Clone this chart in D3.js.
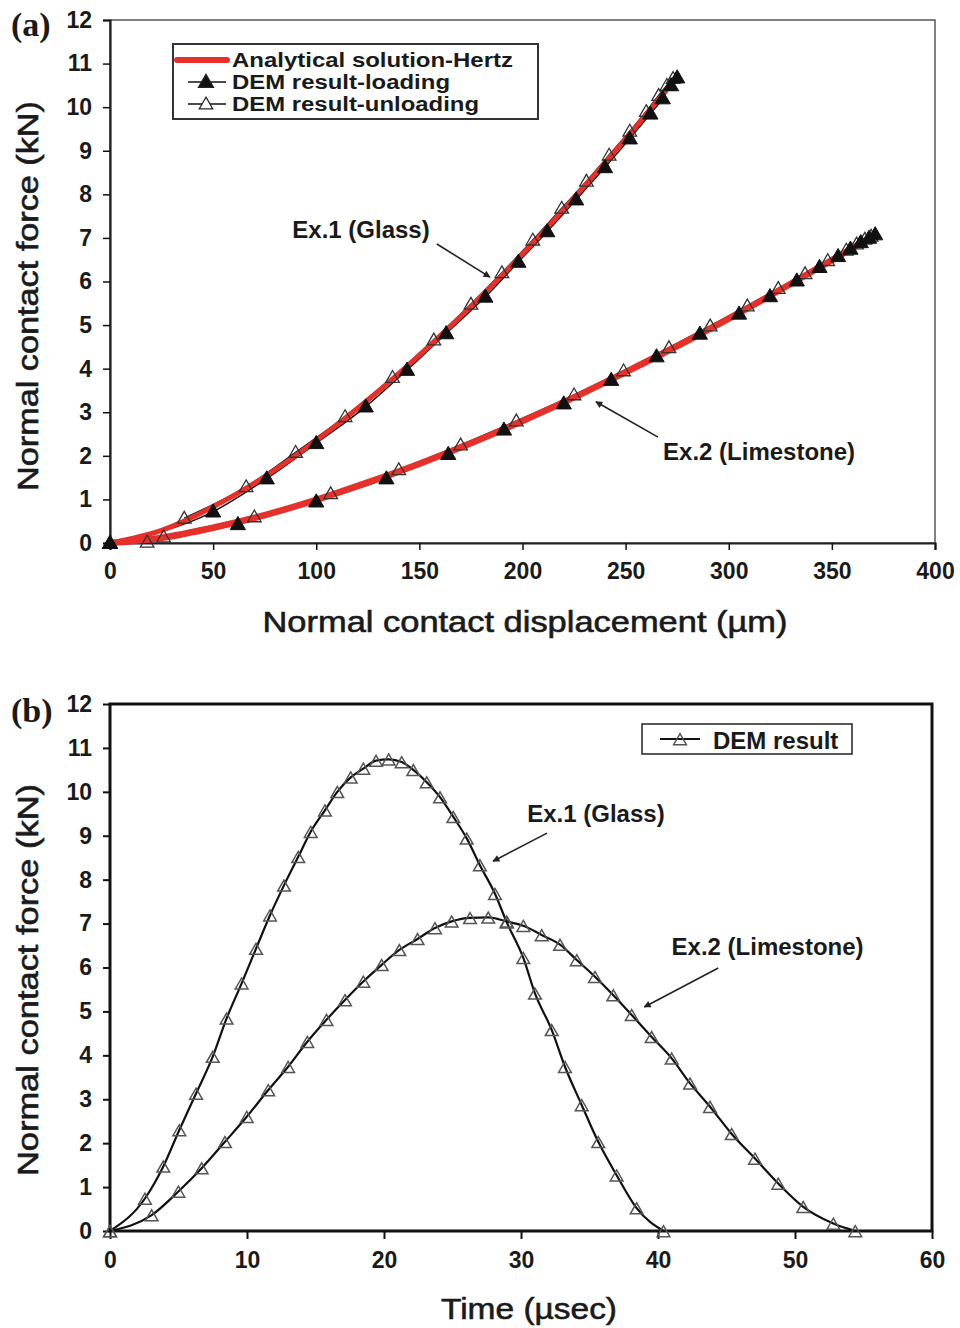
<!DOCTYPE html>
<html lang="en">
<head>
<meta charset="UTF-8">
<title>Normal contact force</title>
<script src="https://d3js.org/d3.v7.min.js"></script>
<style>
  body { margin: 0; background: #fff; }
  text { font-family: "Liberation Sans", Arial, sans-serif; fill: #1a1a1a; }
</style>
</head>
<body>
<script>
// ---- data ----
var dispTicks = [0, 50, 100, 150, 200, 250, 300, 350, 400];
var timeTicks = [0, 10, 20, 30, 40, 50, 60];
var forceTicks = [0, 1, 2, 3, 4, 5, 6, 7, 8, 9, 10, 11, 12];

// (a) analytical Hertz curves
var hertzGlassD = [0, 25, 50, 75, 100, 125, 150, 175, 200, 225, 250, 275];
var hertzGlassF = [0, 0.29, 0.83, 1.52, 2.35, 3.28, 4.31, 5.43, 6.63, 7.92, 9.27, 10.70];
var hertzLimeD = [0, 25, 50, 75, 100, 125, 150, 175, 200, 225, 250, 275, 300, 325, 350, 370];
var hertzLimeF = [0, 0.12, 0.35, 0.64, 0.99, 1.39, 1.82, 2.29, 2.80, 3.34, 3.92, 4.52, 5.15, 5.81, 6.49, 7.05];

// (a) DEM loading / unloading
var glassLoadD = [0, 50, 76, 100, 124, 144, 163, 182, 198, 212, 226, 240, 252, 262, 268, 272, 275];
var glassLoadF = [0, 0.72, 1.48, 2.29, 3.13, 3.97, 4.81, 5.65, 6.45, 7.15, 7.88, 8.62, 9.28, 9.85, 10.2, 10.5, 10.68];
var glassUnloadD = [36, 66, 90, 114, 137, 157, 175, 190, 205, 219, 231, 242, 252, 260, 266, 270, 273];
var glassUnloadF = [0.57, 1.29, 2.08, 2.9, 3.8, 4.66, 5.48, 6.2, 6.95, 7.68, 8.3, 8.9, 9.45, 9.9, 10.27, 10.5, 10.66];
var limeLoadD = [0, 62, 100, 134, 164, 191, 220, 243, 265, 286, 305, 320, 333, 344, 353, 359, 364, 368, 371];
var limeLoadF = [0, 0.43, 0.95, 1.48, 2.04, 2.6, 3.2, 3.74, 4.28, 4.8, 5.26, 5.66, 6.02, 6.33, 6.58, 6.75, 6.9, 7.0, 7.08];
var limeUnloadD = [18, 26, 70, 107, 140, 170, 197, 225, 249, 271, 291, 309, 324, 337, 348, 357, 362, 366, 369];
var limeUnloadF = [0.02, 0.14, 0.6, 1.13, 1.68, 2.25, 2.8, 3.4, 3.95, 4.48, 4.98, 5.44, 5.84, 6.18, 6.48, 6.72, 6.86, 6.97, 7.04];

// (b) DEM force history
var glassT = [0, 2.55, 3.89, 5.06, 6.28, 7.5, 8.51, 9.61, 10.66, 11.68, 12.7, 13.74, 14.65, 15.69, 16.59, 17.57, 18.49, 19.42, 20.34, 21.29,
  22.14, 23.12, 24.09, 25.06, 26.04, 27.0, 28.1, 28.96, 30.17, 31.02, 32.24, 33.21, 34.43, 35.64, 36.98, 38.44, 40.4];
var glassF = [0, 0.74, 1.47, 2.3, 3.13, 3.97, 4.84, 5.64, 6.43, 7.19, 7.87, 8.52, 9.09, 9.58, 10.0, 10.33, 10.53, 10.71, 10.74, 10.68,
  10.5, 10.22, 9.88, 9.43, 8.94, 8.33, 7.68, 7.03, 6.22, 5.41, 4.58, 3.74, 2.87, 2.03, 1.27, 0.52, 0];
var limeT = [0, 3.04, 4.99, 6.69, 8.39, 9.98, 11.55, 13.0, 14.4, 15.8, 17.15, 18.49, 19.83, 21.12, 22.45, 23.72, 24.94, 26.28, 27.61, 28.96,
  30.17, 31.51, 32.85, 34.07, 35.4, 36.74, 38.08, 39.54, 41.0, 42.34, 43.8, 45.38, 47.08, 48.78, 50.6, 52.8, 54.4];
var limeF = [0, 0.36, 0.9, 1.43, 2.03, 2.6, 3.21, 3.74, 4.31, 4.81, 5.26, 5.68, 6.06, 6.4, 6.65, 6.9, 7.05, 7.13, 7.14, 7.05,
  6.95, 6.74, 6.52, 6.17, 5.79, 5.37, 4.92, 4.42, 3.93, 3.36, 2.83, 2.21, 1.65, 1.08, 0.55, 0.17, 0];

function zip(xs, ys) {
  return xs.map(function (x, i) { return [x, ys[i]]; });
}

var svg = d3.select('body').append('svg')
  .attr('width', 960)
  .attr('height', 1328);

svg.append('rect').attr('width', 960).attr('height', 1328).attr('fill', '#fff');

var defs = svg.append('defs');
defs.append('marker')
  .attr('id', 'arrow')
  .attr('viewBox', '0 0 10 10')
  .attr('refX', 9).attr('refY', 5)
  .attr('markerWidth', 10).attr('markerHeight', 7)
  .attr('markerUnits', 'userSpaceOnUse')
  .attr('orient', 'auto')
  .append('path').attr('d', 'M0,0 L10,5 L0,10 z').attr('fill', '#222');

var tri = d3.symbol().type(d3.symbolTriangle);

function styleTicks(a, w) {
  a.selectAll('.tick line').attr('stroke', '#111').attr('stroke-width', w);
  a.selectAll('.tick text').attr('font-size', 23).attr('font-weight', 'bold')
    .attr('font-family', '"Liberation Sans", Arial, sans-serif').attr('fill', '#1a1a1a');
}

// axis titles are heavier than regular, lighter than bold in the figure
function title(g, label, x, y, len, rot) {
  g.append('text')
    .attr('transform', 'translate(' + x + ',' + y + ')' + (rot ? ' rotate(-90)' : ''))
    .attr('dy', '0.36em').attr('text-anchor', 'middle').attr('font-size', 30)
    .attr('stroke', '#1a1a1a').attr('stroke-width', 0.6)
    .attr('textLength', len).attr('lengthAdjust', 'spacingAndGlyphs')
    .text(label);
}

// ================= panel (a) =================
var xA = d3.scaleLinear().domain([0, 400]).range([110, 935]);
var yA = d3.scaleLinear().domain([0, 12]).range([543, 20]);

var gA = svg.append('g');

gA.append('rect')
  .attr('x', xA(0)).attr('y', yA(12))
  .attr('width', xA(400) - xA(0)).attr('height', yA(0) - yA(12))
  .attr('fill', 'none').attr('stroke', '#555').attr('stroke-width', 1.5);

var axA = gA.append('g').attr('transform', 'translate(0,' + yA(0) + ')')
  .call(d3.axisBottom(xA).tickValues(dispTicks).tickSize(7).tickPadding(13));
var ayA = gA.append('g').attr('transform', 'translate(' + xA(0) + ',0)')
  .call(d3.axisLeft(yA).tickValues(forceTicks).tickSize(7).tickPadding(11));

[axA, ayA].forEach(function (a) {
  a.select('.domain').attr('stroke', '#222').attr('stroke-width', 2.2);
  styleTicks(a, 1.5);
});

var lineA = d3.line()
  .x(function (d) { return xA(d[0]); })
  .y(function (d) { return yA(d[1]); })
  .curve(d3.curveMonotoneX);

// thin DEM lines
[zip(glassLoadD, glassLoadF), zip(glassUnloadD, glassUnloadF),
 zip(limeLoadD, limeLoadF), zip(limeUnloadD, limeUnloadF)].forEach(function (s) {
  gA.append('path').datum(s).attr('d', lineA)
    .attr('fill', 'none').attr('stroke', '#111').attr('stroke-width', 1.5);
});

// Hertz solution (red)
gA.append('path').datum(zip(hertzGlassD, hertzGlassF)).attr('d', lineA)
  .attr('fill', 'none').attr('stroke', '#e8302a').attr('stroke-width', 5)
  .attr('stroke-linecap', 'round');
gA.append('path').datum(zip(hertzLimeD, hertzLimeF)).attr('d', lineA)
  .attr('fill', 'none').attr('stroke', '#e8302a').attr('stroke-width', 6.5)
  .attr('stroke-linecap', 'round');

// markers
function drawTri(g, data, xs, ys, filled, size) {
  g.selectAll(null).data(data).enter().append('path')
    .attr('d', tri.size(size)())
    .attr('transform', function (d) { return 'translate(' + xs(d[0]) + ',' + (ys(d[1]) + 1) + ')'; })
    .attr('fill', filled ? '#111' : 'none')
    .attr('stroke', filled ? '#111' : '#333')
    .attr('stroke-width', filled ? 1 : 1.3);
}
drawTri(gA, zip(glassUnloadD, glassUnloadF), xA, yA, false, 80);
drawTri(gA, zip(limeUnloadD, limeUnloadF), xA, yA, false, 80);
drawTri(gA, zip(glassLoadD, glassLoadF), xA, yA, true, 100);
drawTri(gA, zip(limeLoadD, limeLoadF), xA, yA, true, 100);

// legend (a)
var legRows = [60, 82, 104];
var legA = gA.append('g');
legA.append('rect').attr('x', 173).attr('y', 44).attr('width', 365).attr('height', 75)
  .attr('fill', '#fff').attr('stroke', '#333').attr('stroke-width', 2);
legA.append('line').attr('x1', 177).attr('x2', 227).attr('y1', legRows[0]).attr('y2', legRows[0])
  .attr('stroke', '#e8302a').attr('stroke-width', 6).attr('stroke-linecap', 'round');
[legRows[1], legRows[2]].forEach(function (y, i) {
  legA.append('line').attr('x1', 188).attr('x2', 226).attr('y1', y).attr('y2', y)
    .attr('stroke', '#111').attr('stroke-width', 1.5);
  legA.append('path').attr('d', tri.size(i === 0 ? 100 : 80)())
    .attr('transform', 'translate(206,' + (y + 1) + ')')
    .attr('fill', i === 0 ? '#111' : '#fff').attr('stroke', '#222').attr('stroke-width', 1.2);
});
var legLabels = ['Analytical solution-Hertz', 'DEM result-loading', 'DEM result-unloading'];
var legWidths = [281, 218, 247];
legLabels.forEach(function (t, i) {
  legA.append('text').attr('x', 232).attr('y', legRows[i]).attr('dy', '0.36em')
    .attr('font-size', 19.5).attr('font-weight', 'bold')
    .attr('textLength', legWidths[i]).attr('lengthAdjust', 'spacingAndGlyphs')
    .text(t);
});

// annotations
function note(g, xs, ys, label, tx, ty, from, to) {
  g.append('text').attr('x', xs(tx)).attr('y', ys(ty)).attr('dy', '0.36em')
    .attr('text-anchor', 'middle').attr('font-size', 24).attr('font-weight', 'bold').text(label);
  g.append('line').attr('x1', xs(from[0])).attr('y1', ys(from[1]))
    .attr('x2', xs(to[0])).attr('y2', ys(to[1]))
    .attr('stroke', '#222').attr('stroke-width', 1.6).attr('marker-end', 'url(#arrow)');
}
note(gA, xA, yA, 'Ex.1 (Glass)', 121.7, 7.2, [158.5, 6.86], [184.2, 6.1]);
note(gA, xA, yA, 'Ex.2 (Limestone)', 314.7, 2.11, [265.7, 2.43], [235.6, 3.24]);

title(gA, 'Normal contact displacement (\u00b5m)', 525, 621, 525, false);
title(gA, 'Normal contact force (kN)', 27, 296, 390, true);
gA.append('text').attr('x', 11).attr('y', 36)
  .style('font-family', '"Liberation Serif", "DejaVu Serif", serif')
  .attr('font-size', 34).attr('font-weight', 'bold').text('(a)');

// ================= panel (b) =================
var xB = d3.scaleLinear().domain([0, 60]).range([110, 932]);
var yB = d3.scaleLinear().domain([0, 12]).range([1231, 704]);

var gB = svg.append('g');

var axB = gB.append('g').attr('transform', 'translate(0,' + yB(0) + ')')
  .call(d3.axisBottom(xB).tickValues(timeTicks).tickSize(8).tickPadding(13));
var ayB = gB.append('g').attr('transform', 'translate(' + xB(0) + ',0)')
  .call(d3.axisLeft(yB).tickValues(forceTicks).tickSize(7).tickPadding(11));

[axB, ayB].forEach(function (a) {
  a.select('.domain').remove();
  styleTicks(a, 2);
});

gB.append('rect')
  .attr('x', xB(0)).attr('y', yB(12))
  .attr('width', xB(60) - xB(0)).attr('height', yB(0) - yB(12))
  .attr('fill', 'none').attr('stroke', '#111').attr('stroke-width', 3);

var lineB = d3.line()
  .x(function (d) { return xB(d[0]); })
  .y(function (d) { return yB(d[1]); })
  .curve(d3.curveMonotoneX);

[zip(glassT, glassF), zip(limeT, limeF)].forEach(function (s) {
  gB.append('path').datum(s).attr('d', lineB)
    .attr('fill', 'none').attr('stroke', '#111').attr('stroke-width', 2.2);
});

function drawOpenB(data) {
  gB.selectAll(null).data(data).enter().append('path')
    .attr('d', tri.size(70)())
    .attr('transform', function (d) { return 'translate(' + xB(d[0]) + ',' + (yB(d[1]) + 2) + ')'; })
    .attr('fill', 'none').attr('stroke', '#555').attr('stroke-width', 1.5);
}
drawOpenB(zip(glassT, glassF));
drawOpenB(zip(limeT, limeF));

// legend (b)
gB.append('rect').attr('x', 642).attr('y', 724).attr('width', 210).attr('height', 30)
  .attr('fill', '#fff').attr('stroke', '#222').attr('stroke-width', 1.5);
gB.append('line').attr('x1', 660).attr('x2', 700).attr('y1', 739).attr('y2', 739)
  .attr('stroke', '#111').attr('stroke-width', 2.2);
gB.append('path').attr('d', tri.size(70)()).attr('transform', 'translate(680,741)')
  .attr('fill', 'none').attr('stroke', '#555').attr('stroke-width', 1.5);
gB.append('text').attr('x', 713).attr('y', 740).attr('dy', '0.36em')
  .attr('font-size', 24).attr('font-weight', 'bold').text('DEM result');

note(gB, xB, yB, 'Ex.1 (Glass)', 35.47, 9.52, [31.9, 9.06], [27.96, 8.42]);
note(gB, xB, yB, 'Ex.2 (Limestone)', 48.0, 6.49, [44.4, 5.99], [39.0, 5.1]);

title(gB, 'Time (\u00b5sec)', 529, 1308, 176, false);
title(gB, 'Normal contact force (kN)', 27, 980, 392, true);
gB.append('text').attr('x', 11).attr('y', 722)
  .style('font-family', '"Liberation Serif", "DejaVu Serif", serif')
  .attr('font-size', 34).attr('font-weight', 'bold').text('(b)');
</script>
</body>
</html>
